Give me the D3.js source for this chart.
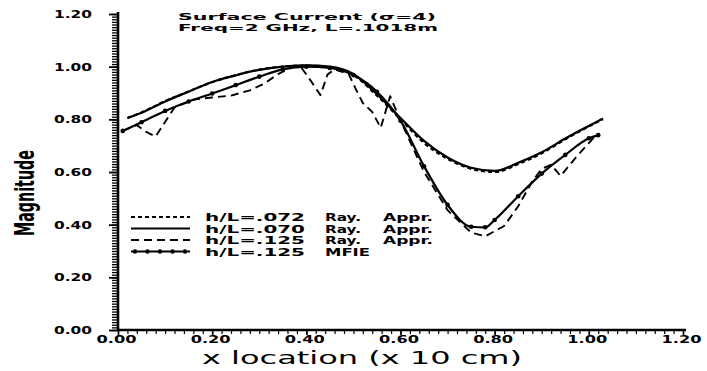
<!DOCTYPE html>
<html>
<head>
<meta charset="utf-8">
<script src="https://cdn.jsdelivr.net/npm/d3@7"></script>
<style>
  html, body { margin: 0; padding: 0; background: #fff; }
  svg { display: block; }
  text { fill: #000; }
</style>
</head>
<body>
<svg id="chart" width="707" height="371"></svg>
<script>
// Tick labels
const xTickValues = [0, 0.2, 0.4, 0.6, 0.8, 1.0, 1.2];
const xTickLabels = ["0.00", "0.20", "0.40", "0.60", "0.80", "1.00", "1.20"];
const yTickValues = [0, 0.2, 0.4, 0.6, 0.8, 1.0, 1.2];
const yTickLabels = ["0.00", "0.20", "0.40", "0.60", "0.80", "1.00", "1.20"];

// h/L = .072, ray approximation (short dashes)
const x072 = [0.02, 0.05, 0.10, 0.15, 0.20, 0.25, 0.30, 0.35, 0.40, 0.45, 0.50, 0.55, 0.60, 0.65, 0.70, 0.75, 0.80, 0.85, 0.90, 0.95, 1.00, 1.03];
const mag072 = [0.805, 0.826, 0.869, 0.906, 0.941, 0.968, 0.989, 1.000, 1.004, 0.998, 0.968, 0.890, 0.800, 0.710, 0.650, 0.612, 0.600, 0.630, 0.671, 0.724, 0.773, 0.800];

// h/L = .070, ray approximation (solid)
const x070 = [0.02, 0.05, 0.10, 0.15, 0.20, 0.25, 0.30, 0.35, 0.40, 0.45, 0.50, 0.55, 0.60, 0.65, 0.70, 0.75, 0.80, 0.85, 0.90, 0.95, 1.00, 1.03];
const mag070 = [0.805, 0.825, 0.868, 0.905, 0.942, 0.967, 0.988, 1.000, 1.005, 1.000, 0.972, 0.895, 0.805, 0.718, 0.655, 0.616, 0.604, 0.635, 0.675, 0.727, 0.775, 0.803];

// h/L = .125, ray approximation (long dashes)
const x125 = [0.01, 0.04, 0.06, 0.08, 0.10, 0.12, 0.16, 0.20, 0.24, 0.28, 0.31, 0.34, 0.37, 0.39, 0.41, 0.43, 0.445, 0.46, 0.49, 0.505, 0.52, 0.54, 0.558, 0.578, 0.60, 0.65, 0.70, 0.75, 0.78, 0.82, 0.85, 0.88, 0.90, 0.92, 0.94, 0.97, 1.00, 1.013];
const mag125 = [0.756, 0.778, 0.752, 0.735, 0.790, 0.845, 0.875, 0.883, 0.890, 0.910, 0.935, 0.972, 1.000, 0.995, 0.945, 0.892, 0.970, 0.990, 0.972, 0.915, 0.862, 0.828, 0.768, 0.888, 0.795, 0.600, 0.455, 0.370, 0.356, 0.395, 0.470, 0.565, 0.612, 0.628, 0.585, 0.650, 0.710, 0.736];

// h/L = .125, MFIE solution (solid with markers)
const xMfie = [0.01, 0.05, 0.10, 0.15, 0.20, 0.25, 0.30, 0.35, 0.40, 0.45, 0.50, 0.55, 0.60, 0.65, 0.70, 0.75, 0.78, 0.80, 0.85, 0.90, 0.95, 1.00, 1.02];
const magMfie = [0.756, 0.789, 0.832, 0.868, 0.898, 0.930, 0.962, 0.990, 1.000, 0.995, 0.968, 0.905, 0.795, 0.622, 0.475, 0.392, 0.390, 0.418, 0.508, 0.594, 0.665, 0.728, 0.740];

const legendLabels = [
  ["h/L=.072", "Ray.", "Appr."],
  ["h/L=.070", "Ray.", "Appr."],
  ["h/L=.125", "Ray.", "Appr."],
  ["h/L=.125", "MFIE", ""]
];

const svg = d3.select("#chart");
const FONT = "'DejaVu Sans', sans-serif";

const x = d3.scaleLinear().domain([0, 1.2]).range([118, 683]);
const y = d3.scaleLinear().domain([0, 1.2]).range([330, 14]);

const INK = "#000";

// ---- axes ----
const yMinor = d3.range(0, 121).map(i => i / 100);
const xMinor = d3.range(0, 61).map(i => i / 50);

svg.append("g")
  .attr("transform", `translate(${x(0)},0)`)
  .call(d3.axisLeft(y).tickValues(yMinor).tickSize(6).tickFormat(""))
  .call(g => g.selectAll("path, line").attr("stroke", INK).attr("stroke-width", 1.3))
  .call(g => g.select(".domain").attr("stroke-width", 2.6).attr("d", `M0,${y(0)}V${y(1.2) - 2}`));

svg.append("g")
  .attr("transform", `translate(${x(0)},0)`)
  .call(d3.axisLeft(y).tickValues(yTickValues).tickSize(9).tickFormat((d, i) => yTickLabels[i]).tickPadding(17))
  .call(g => g.select(".domain").remove())
  .call(g => g.selectAll("line").attr("stroke", INK).attr("stroke-width", 1.8))
  .call(g => g.selectAll("text")
    .attr("font-family", FONT).attr("font-weight", "bold").attr("font-size", 10.5)
    .attr("textLength", 38).attr("lengthAdjust", "spacingAndGlyphs").attr("fill", INK));

svg.append("g")
  .attr("transform", `translate(0,${y(0)})`)
  .call(d3.axisBottom(x).tickValues(xMinor).tickSize(4).tickFormat(""))
  .call(g => g.selectAll("path, line").attr("stroke", INK).attr("stroke-width", 1.2))
  .call(g => g.select(".domain").attr("stroke-width", 2.6).attr("d", `M${x(0)},0H${x(1.2) + 3}`));

svg.append("g")
  .attr("transform", `translate(0,${y(0)})`)
  .call(d3.axisBottom(x).tickValues(xTickValues).tickSize(5).tickFormat((d, i) => xTickLabels[i]).tickPadding(1))
  .call(g => g.select(".domain").remove())
  .call(g => g.selectAll("line").attr("stroke", INK).attr("stroke-width", 1.6))
  .call(g => g.selectAll("text")
    .attr("font-family", FONT).attr("font-weight", "bold").attr("font-size", 10)
    .attr("dx", -2)
    .attr("textLength", 40).attr("lengthAdjust", "spacingAndGlyphs").attr("fill", INK));

// ---- axis titles ----
svg.append("text")
  .attr("x", 202).attr("y", 364)
  .attr("font-family", FONT).attr("font-size", 18)
  .attr("textLength", 320).attr("lengthAdjust", "spacingAndGlyphs")
  .text("x location (x 10 cm)");

svg.append("text")
  .attr("transform", "translate(34,193) rotate(-90)")
  .attr("text-anchor", "middle")
  .attr("font-family", "'Liberation Sans Narrow', 'DejaVu Sans Condensed', sans-serif")
  .attr("font-weight", "bold")
  .attr("font-size", 27)
  .attr("textLength", 86).attr("lengthAdjust", "spacingAndGlyphs")
  .text("Magnitude");

// ---- title ----
svg.append("text")
  .attr("x", 178).attr("y", 20)
  .attr("font-family", FONT).attr("font-weight", "bold").attr("font-size", 9.5)
  .attr("textLength", 258).attr("lengthAdjust", "spacingAndGlyphs")
  .text("Surface Current (σ=4)");
svg.append("text")
  .attr("x", 178).attr("y", 31)
  .attr("font-family", FONT).attr("font-weight", "bold").attr("font-size", 9.5)
  .attr("textLength", 260).attr("lengthAdjust", "spacingAndGlyphs")
  .text("Freq=2 GHz, L=.1018m");

// ---- curves ----
const smooth = d3.line().x(d => x(d[0])).y(d => y(d[1])).curve(d3.curveMonotoneX);
const straight = d3.line().x(d => x(d[0])).y(d => y(d[1]));

const series = [
  { xs: x072, ys: mag072, gen: smooth, dash: "4,3", width: 2.2 },
  { xs: x070, ys: mag070, gen: smooth, dash: null, width: 2.2 },
  { xs: x125, ys: mag125, gen: straight, dash: "8,5", width: 1.9 },
  { xs: xMfie, ys: magMfie, gen: smooth, dash: null, width: 2.2, markers: true }
];

const plot = svg.append("g");
series.forEach(s => {
  const pts = s.xs.map((v, i) => [v, s.ys[i]]);
  plot.append("path")
    .attr("d", s.gen(pts))
    .attr("fill", "none")
    .attr("stroke", INK)
    .attr("stroke-width", s.width)
    .attr("stroke-linejoin", "round")
    .attr("stroke-dasharray", s.dash);
  if (s.markers) {
    plot.selectAll(null).data(pts).enter().append("circle")
      .attr("cx", d => x(d[0])).attr("cy", d => y(d[1])).attr("r", 2.3)
      .attr("fill", INK);
  }
});

// ---- legend ----
const legend = svg.append("g");
const rowY = [217, 228.5, 240, 251.5];
const lx0 = 131, lx1 = 190;
series.forEach((s, i) => {
  const ly = rowY[i];
  legend.append("line")
    .attr("x1", lx0).attr("x2", lx1).attr("y1", ly).attr("y2", ly)
    .attr("stroke", INK).attr("stroke-width", s.width)
    .attr("stroke-dasharray", s.dash);
  if (s.markers) {
    d3.range(5).forEach(k => {
      legend.append("circle").attr("cx", lx0 + 4 + k * 12.5).attr("cy", ly).attr("r", 2.2).attr("fill", INK);
    });
  }
  const [a, b, c] = legendLabels[i];
  const t = (txt, xx, len) => legend.append("text")
    .attr("x", xx).attr("y", ly + 4)
    .attr("font-family", FONT).attr("font-weight", "bold").attr("font-size", 10)
    .attr("textLength", len).attr("lengthAdjust", "spacingAndGlyphs")
    .text(txt);
  t(a, 205, 100);
  t(b, 325, b === "MFIE" ? 45 : 36);
  if (c) t(c, 383, 50);
});
</script>
</body>
</html>
